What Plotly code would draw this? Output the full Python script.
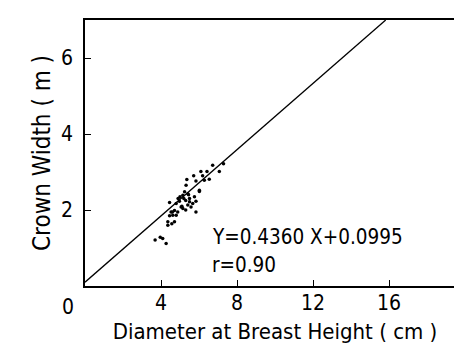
import plotly.graph_objects as go

# Scatter data: DBH (cm) vs crown width (m)
dbh = [3.69, 3.96, 4.09, 4.27, 4.36, 4.57, 4.36, 4.71, 4.45, 4.62, 4.80, 4.53,
       4.88, 4.71, 4.45, 4.80, 4.97, 5.06, 5.15, 5.41, 5.58, 5.50, 5.67, 5.84,
       5.76, 5.15, 5.41, 5.24, 6.02, 5.32, 5.36, 5.84, 6.28, 5.72, 6.10, 6.19,
       6.42, 6.54, 6.72, 7.07, 7.29, 6.02, 5.84, 4.90, 5.00, 5.20, 5.30, 5.50,
       5.30, 4.60, 5.10, 5.45]
crown = [1.21, 1.28, 1.25, 1.12, 1.60, 1.64, 1.69, 1.69, 1.85, 1.86, 1.86, 1.95,
         1.95, 1.99, 2.20, 2.17, 2.23, 2.08, 2.04, 2.13, 2.08, 2.22, 2.17, 2.23,
         2.35, 2.39, 2.43, 2.48, 2.49, 2.65, 2.80, 2.76, 2.78, 2.90, 3.01, 2.90,
         3.01, 2.81, 3.18, 3.01, 3.22, 2.52, 1.95, 2.30, 2.35, 2.30, 2.25, 2.30,
         2.00, 1.95, 2.10, 2.40]

slope = 0.4360
intercept = 0.0995
line_x = [0, (7.0 - intercept) / slope]
line_y = [intercept + slope * v for v in line_x]

x_ticks = [4, 8, 12, 16]
y_ticks = [2, 4, 6]

FONT = "DejaVu Sans Condensed, DejaVu Sans, sans-serif"

fig = go.Figure()
fig.add_trace(go.Scatter(x=line_x, y=line_y, mode="lines",
                         line=dict(color="black", width=1.3), showlegend=False))
fig.add_trace(go.Scatter(x=dbh, y=crown, mode="markers",
                         marker=dict(color="black", size=3.5), showlegend=False))

axis_common = dict(showgrid=False, zeroline=False, showline=True, linecolor="black",
                   linewidth=1.5, mirror=True, ticks="inside", ticklen=6,
                   tickcolor="black", tickwidth=1.3,
                   tickfont=dict(family=FONT, size=21, color="black"))

fig.update_layout(
    width=462, height=349,
    margin=dict(l=77, r=3, t=12, b=71),
    paper_bgcolor="white", plot_bgcolor="white",
    font=dict(family=FONT, color="black"),
    xaxis=dict(range=[0, 20], tickvals=x_ticks, ticktext=[str(v) for v in x_ticks],
               title=dict(text="Diameter at Breast Height ( cm )",
                          font=dict(family=FONT, size=22), standoff=10),
               ticklabelstandoff=-3,
               **axis_common),
    yaxis=dict(range=[0, 7], tickvals=y_ticks, ticktext=[str(v) for v in y_ticks],
               title=dict(text="Crown Width ( m )",
                          font=dict(family=FONT, size=24), standoff=4),
               ticklabelstandoff=6,
               **axis_common),
    annotations=[
        dict(x=0, y=0, xref="x", yref="y", text="0", showarrow=False,
             xanchor="right", yanchor="middle", xshift=-9, yshift=-21,
             font=dict(family=FONT, size=21, color="black")),
        dict(x=6.6, y=1.30, xref="x", yref="y", text="Y=0.4360 X+0.0995",
             showarrow=False, xanchor="left", yanchor="middle",
             font=dict(family=FONT, size=20.5, color="black")),
        dict(x=6.6, y=0.54, xref="x", yref="y", text="r=0.90",
             showarrow=False, xanchor="left", yanchor="middle",
             font=dict(family=FONT, size=20.5, color="black")),
    ],
)

fig.write_html("out.html")
